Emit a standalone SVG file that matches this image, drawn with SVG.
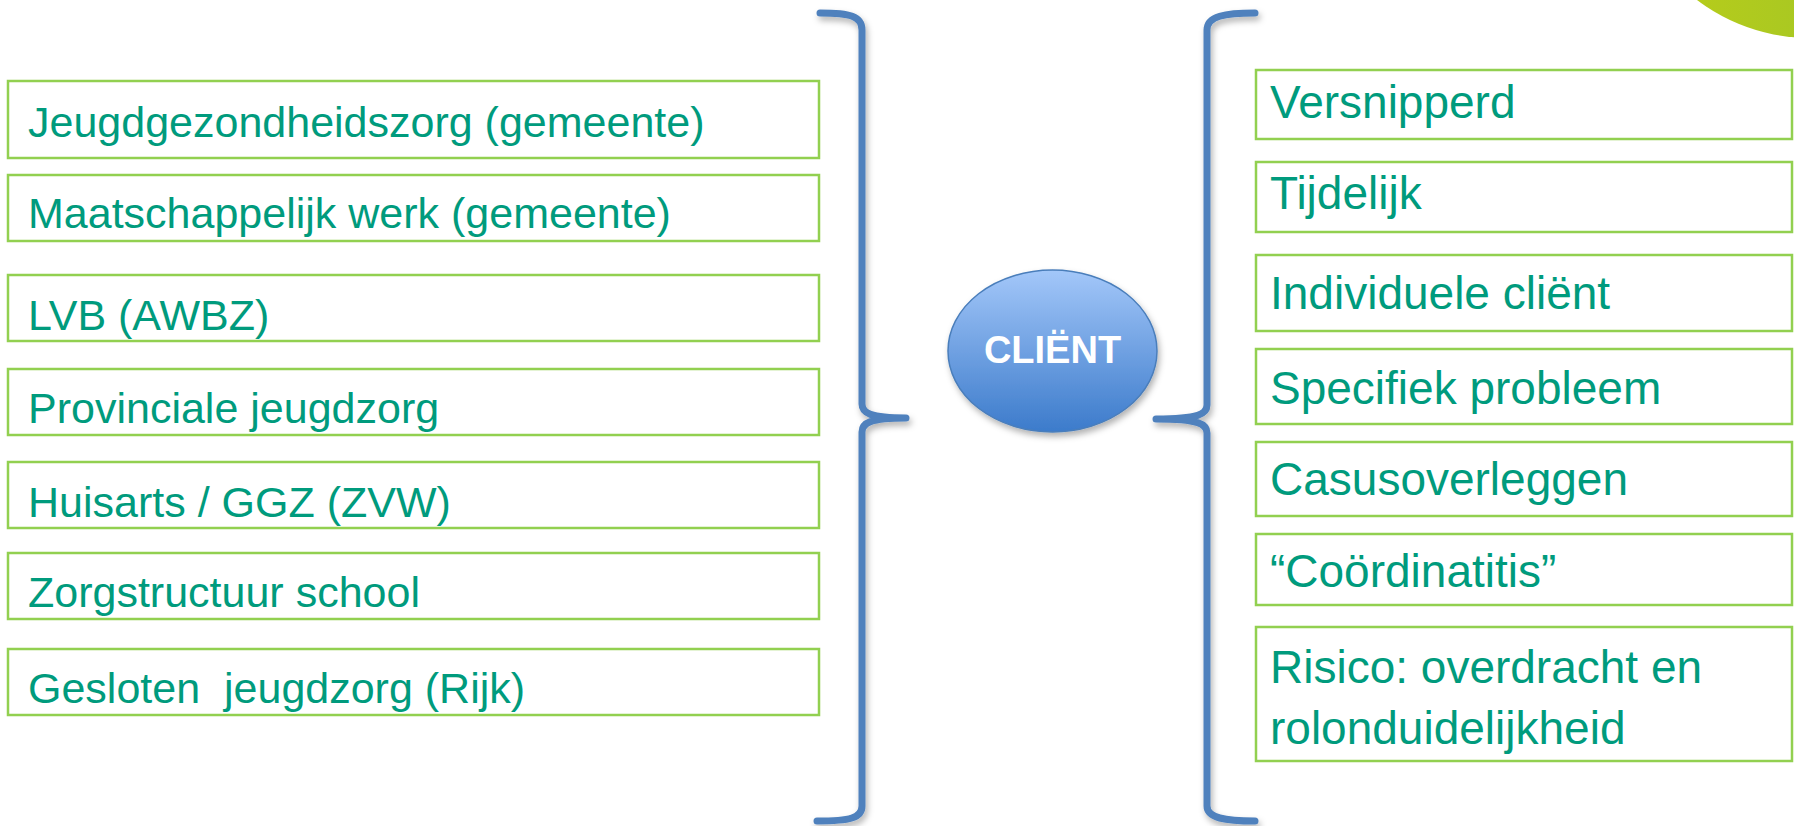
<svg xmlns="http://www.w3.org/2000/svg" width="1794" height="826" viewBox="0 0 1794 826">
<defs>
<style>
.box{fill:#fff;stroke:#92D050;stroke-width:2.5}
.lt{font-family:"Liberation Sans",Arial,sans-serif;font-size:43px;fill:#009B7D}
.rt{font-family:"Liberation Sans",Arial,sans-serif;font-size:46px;fill:#009B7D}
.brace{fill:none;stroke:#4F81BD;stroke-width:7;stroke-linecap:round;stroke-linejoin:round}
</style>
<linearGradient id="ell" x1="0" y1="0" x2="0" y2="1">
<stop offset="0" stop-color="#A3C7F9"/>
<stop offset="1" stop-color="#3C7BCB"/>
</linearGradient>
<linearGradient id="leaf" x1="0" y1="0" x2="1" y2="0">
<stop offset="0" stop-color="#BDCE17"/>
<stop offset="1" stop-color="#94C22E"/>
</linearGradient>
<filter id="sh" x="-20%" y="-10%" width="140%" height="130%">
<feDropShadow dx="2" dy="4" stdDeviation="3" flood-color="#000" flood-opacity="0.3"/>
</filter>
</defs>
<rect width="1794" height="826" fill="#fff"/>
<circle cx="1810" cy="-149" r="187" fill="url(#leaf)"/>

<g id="connectors">
<path class="brace" filter="url(#sh)" d="M820,13 C850,13 862,16 862,30 L862,404 C862,413 870,418 906,418 C870,418 862,423 862,432 L862,806 C862,818 850,821 817,821"/>
<path class="brace" filter="url(#sh)" d="M1255,13 C1225,13 1207,16 1207,30 L1207,405 C1207,414 1199,419 1156,419 C1199,419 1207,424 1207,433 L1207,806 C1207,818 1225,821 1255,821"/>
</g>

<g id="client">
<ellipse cx="1052.5" cy="351" rx="104.5" ry="81" fill="url(#ell)" stroke="#4A7EBB" stroke-width="1.5" filter="url(#sh)"/>
<text x="1052.5" y="363" text-anchor="middle" font-family="'Liberation Sans',Arial,sans-serif" font-weight="bold" font-size="38" fill="#fff">CLIËNT</text>
</g>

<g id="l1"><rect class="box" x="8" y="81" width="811" height="77"/><text class="lt" x="28" y="137">Jeugdgezondheidszorg (gemeente)</text></g>
<g id="l2"><rect class="box" x="8" y="175" width="811" height="66"/><text class="lt" x="28" y="228">Maatschappelijk werk (gemeente)</text></g>
<g id="l3"><rect class="box" x="8" y="275" width="811" height="66"/><text class="lt" x="28" y="330">LVB (AWBZ)</text></g>
<g id="l4"><rect class="box" x="8" y="369" width="811" height="66"/><text class="lt" x="28" y="423">Provinciale jeugdzorg</text></g>
<g id="l5"><rect class="box" x="8" y="462" width="811" height="66"/><text class="lt" x="28" y="517">Huisarts / GGZ (ZVW)</text></g>
<g id="l6"><rect class="box" x="8" y="553" width="811" height="66"/><text class="lt" x="28" y="607">Zorgstructuur school</text></g>
<g id="l7"><rect class="box" x="8" y="649" width="811" height="66"/><text class="lt" x="28" y="703" xml:space="preserve">Gesloten  jeugdzorg (Rijk)</text></g>

<g id="r1"><rect class="box" x="1256" y="70" width="536" height="69"/><text class="rt" x="1270" y="118">Versnipperd</text></g>
<g id="r2"><rect class="box" x="1256" y="162" width="536" height="70"/><text class="rt" x="1270" y="209">Tijdelijk</text></g>
<g id="r3"><rect class="box" x="1256" y="255" width="536" height="76"/><text class="rt" x="1270" y="309">Individuele cliënt</text></g>
<g id="r4"><rect class="box" x="1256" y="349" width="536" height="75"/><text class="rt" x="1270" y="404">Specifiek probleem</text></g>
<g id="r5"><rect class="box" x="1256" y="442" width="536" height="74"/><text class="rt" x="1270" y="495">Casusoverleggen</text></g>
<g id="r6"><rect class="box" x="1256" y="534" width="536" height="71"/><text class="rt" x="1270" y="587">“Coördinatitis”</text></g>
<g id="r7"><rect class="box" x="1256" y="627" width="536" height="134"/><text class="rt" x="1270" y="683">Risico: overdracht en</text><text class="rt" x="1270" y="744">rolonduidelijkheid</text></g>
</svg>
